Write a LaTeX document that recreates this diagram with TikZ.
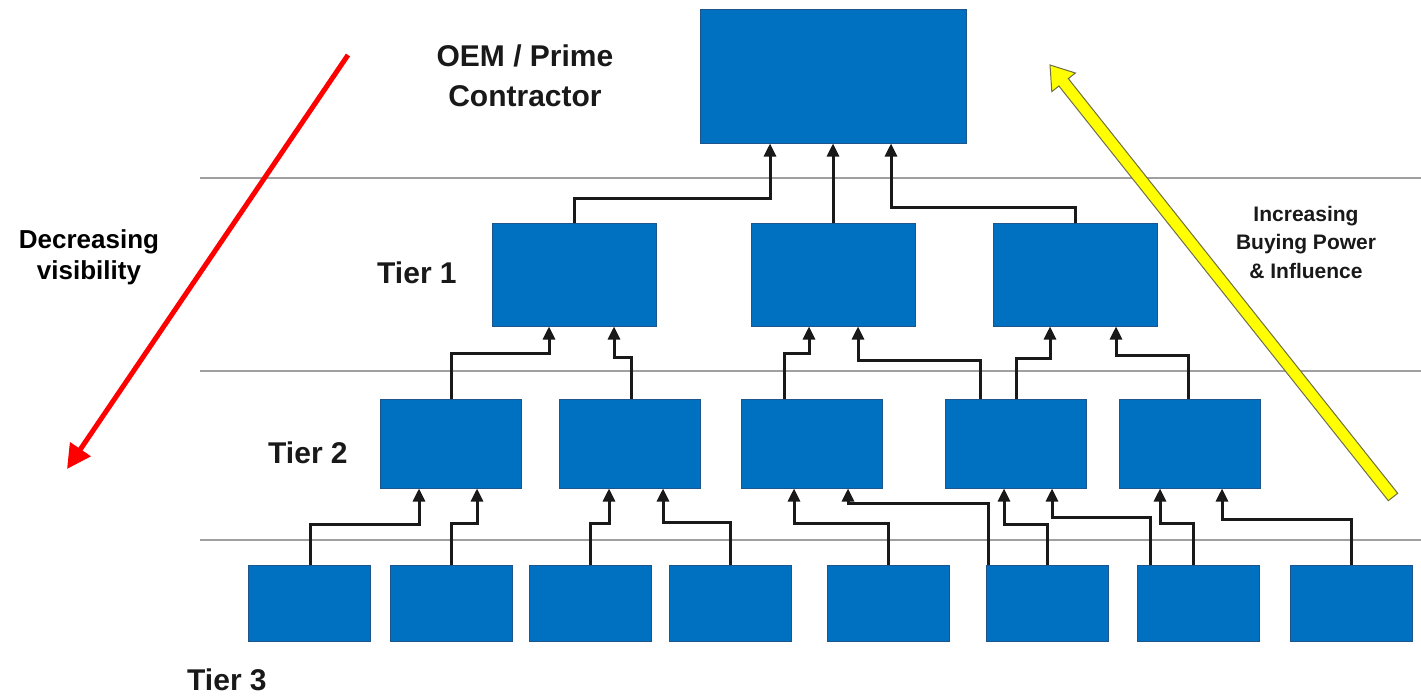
\documentclass[tikz,border=0pt]{standalone}
\usepackage{fontspec}
\setmainfont{Liberation Sans}
\usetikzlibrary{arrows.meta}
\definecolor{boxblue}{RGB}{0,112,192}
\definecolor{boxedge}{RGB}{30,85,140}
\definecolor{sepgray}{RGB}{160,160,160}
\definecolor{txtdark}{RGB}{25,25,25}
\definecolor{arrowyellow}{RGB}{255,255,0}
\definecolor{yedge}{RGB}{110,110,70}
\tikzset{
  bluebox/.style={draw=boxedge, line width=1pt, fill=boxblue, inner sep=0pt},
  oembox/.style={bluebox, minimum width=266pt, minimum height=134pt},
  tieronebox/.style={bluebox, minimum width=164pt, minimum height=103pt},
  tiertwobox/.style={bluebox, minimum width=141pt, minimum height=89pt},
  tierthreebox/.style={bluebox, minimum width=122pt, minimum height=76pt},
  conn/.style={draw=black!90, line width=3pt, -{Triangle[length=13pt,width=12pt]}},
  sepline/.style={draw=sepgray, line width=2.5pt},
  tierlabel/.style={font=\bfseries\fontsize{30}{40}\selectfont, text=txtdark, inner sep=0pt},
}
\begin{document}
\begin{tikzpicture}[x=1pt,y=-1pt]
\useasboundingbox (0,0) rectangle (1421,696);
% separator lines
\draw[sepline] (200,178) -- (1421,178);
\draw[sepline] (200,371) -- (1421,371);
\draw[sepline] (200,540) -- (1421,540);

% boxes
\node[oembox] (oem) at (833,76) {};
\node[tieronebox] (t1a) at (574,274.5) {};
\node[tieronebox] (t1b) at (833,274.5) {};
\node[tieronebox] (t1c) at (1075,274.5) {};
\node[tiertwobox] (t2a) at (451,443.5) {};
\node[tiertwobox] (t2b) at (630,443.5) {};
\node[tiertwobox] (t2c) at (811.5,443.5) {};
\node[tiertwobox] (t2d) at (1016,443.5) {};
\node[tiertwobox] (t2e) at (1189.5,443.5) {};
\node[tierthreebox] (t3a) at (309,603) {};
\node[tierthreebox] (t3b) at (451.5,603) {};
\node[tierthreebox] (t3c) at (590,603) {};
\node[tierthreebox] (t3d) at (730,603) {};
\node[tierthreebox] (t3e) at (888,603) {};
\node[tierthreebox] (t3f) at (1047,603) {};
\node[tierthreebox] (t3g) at (1198,603) {};
\node[tierthreebox] (t3h) at (1351,603) {};

% tier 1 -> OEM
\draw[conn] (t1a.north) |- (770,198) -- (770,0 |- oem.south);
\draw[conn] (t1b.north) -- (oem.south);
\draw[conn] (t1c.north) |- (891,207) -- (891,0 |- oem.south);

% tier 2 -> tier 1
\draw[conn] (t2a.north) |- (549,353) -- (549,0 |- t1a.south);
\draw[conn] (631,0 |- t2b.north) |- (614,357) -- (614,0 |- t1a.south);
\draw[conn] (784,0 |- t2c.north) |- (809,353) -- (809,0 |- t1b.south);
\draw[conn] (980,0 |- t2d.north) |- (858,360) -- (858,0 |- t1b.south);
\draw[conn] (1016,0 |- t2d.north) |- (1050,358) -- (1050,0 |- t1c.south);
\draw[conn] (1188,0 |- t2e.north) |- (1116,355) -- (1116,0 |- t1c.south);

% tier 3 -> tier 2
\draw[conn] (310,0 |- t3a.north) |- (419,524) -- (419,0 |- t2a.south);
\draw[conn] (t3b.north) |- (477,523) -- (477,0 |- t2a.south);
\draw[conn] (t3c.north) |- (609,523) -- (609,0 |- t2b.south);
\draw[conn] (t3d.north) |- (663,522) -- (663,0 |- t2b.south);
\draw[conn] (t3e.north) |- (794,523) -- (794,0 |- t2c.south);
\draw[conn] (988,0 |- t3f.north) |- (848,503) -- (848,0 |- t2c.south);
\draw[conn] (t3f.north) |- (1004,524) -- (1004,0 |- t2d.south);
\draw[conn] (1150,0 |- t3g.north) |- (1052,517) -- (1052,0 |- t2d.south);
\draw[conn] (1193,0 |- t3g.north) |- (1160,523) -- (1160,0 |- t2e.south);
\draw[conn] (t3h.north) |- (1222,519) -- (1222,0 |- t2e.south);

% labels
\node[tierlabel, align=center] (oemlbl) at (525,76) {OEM / Prime\\Contractor};
\node[tierlabel, anchor=base west] (tier1) at (377,283) {Tier 1};
\node[tierlabel, anchor=base west] (tier2) at (268,463) {Tier 2};
\node[tierlabel, anchor=base west] (tier3) at (187,690) {Tier 3};
\node[font=\bfseries\fontsize{26}{31}\selectfont, text=black, align=center, inner sep=0pt] (declbl) at (89,257) {Decreasing\\visibility};
\node[font=\bfseries\fontsize{21}{28.5}\selectfont, text=txtdark, align=center, inner sep=0pt] (inclbl) at (1306,242) {Increasing\\Buying Power\\\& Influence};

% red arrow
\coordinate (redstart) at (348,55);
\coordinate (redend) at (67,469);
\draw[red, line width=5pt, -{Triangle[length=24pt,width=24pt]}] (redstart) -- (redend);

% yellow arrow
\filldraw[fill=arrowyellow, draw=yedge, line width=1pt, line join=miter]
  (1050,65) -- (1075.4,73.0) -- (1068.3,78.6) -- (1397.7,493.3)
  -- (1388.3,500.7) -- (1058.9,86.0) -- (1051.8,91.6) -- cycle;
\end{tikzpicture}
\end{document}
